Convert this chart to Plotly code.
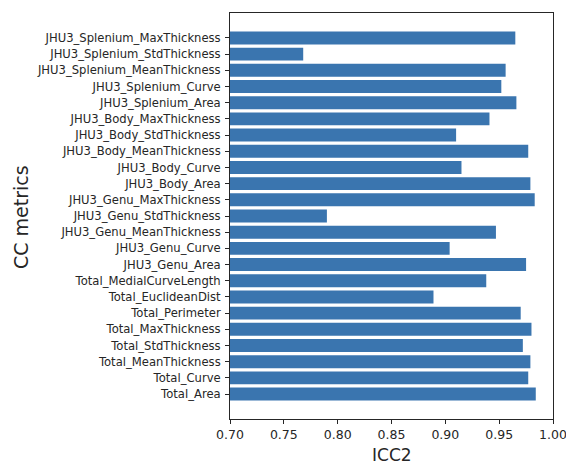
import plotly.graph_objects as go

categories = [
    "Total_Area", "Total_Curve", "Total_MeanThickness", "Total_StdThickness",
    "Total_MaxThickness", "Total_Perimeter", "Total_EuclideanDist",
    "Total_MedialCurveLength", "JHU3_Genu_Area", "JHU3_Genu_Curve",
    "JHU3_Genu_MeanThickness", "JHU3_Genu_StdThickness", "JHU3_Genu_MaxThickness",
    "JHU3_Body_Area", "JHU3_Body_Curve", "JHU3_Body_MeanThickness",
    "JHU3_Body_StdThickness", "JHU3_Body_MaxThickness", "JHU3_Splenium_Area",
    "JHU3_Splenium_Curve", "JHU3_Splenium_MeanThickness",
    "JHU3_Splenium_StdThickness", "JHU3_Splenium_MaxThickness",
]
icc2 = [
    0.984, 0.977, 0.979, 0.972, 0.980, 0.970, 0.889, 0.938,
    0.975, 0.904, 0.947, 0.790, 0.983,
    0.979, 0.915, 0.977, 0.910, 0.941,
    0.966, 0.952, 0.956, 0.768, 0.965,
]
x_ticks = [0.70, 0.75, 0.80, 0.85, 0.90, 0.95, 1.00]

fig = go.Figure(go.Bar(
    x=icc2, y=categories, orientation="h", width=0.8,
    marker=dict(color="#3a75af", line=dict(width=0)),
))

# page body has an 8px margin, so the figure is placed at (8, 8)
OFF = 8
W, H = 574 - OFF, 466 - OFF
L, R, T, B = 230 - OFF, 21, 13 - OFF, 47
PW, PH = W - L - R, H - T - B
n = len(categories)
fig.update_layout(
    width=W, height=H,
    margin=dict(l=L, r=R, t=T, b=B, autoexpand=False),
    paper_bgcolor="white", plot_bgcolor="white",
    font=dict(family="DejaVu Sans", color="#262626"),
    showlegend=False,
    annotations=[
        dict(text="ICC2", xref="paper", yref="paper", x=0.5,
             y=-((455 - OFF) - (H - B)) / PH,
             xanchor="center", yanchor="middle", showarrow=False,
             font=dict(size=17, color="#262626")),
        dict(text="CC metrics", xref="paper", yref="paper",
             x=-(L - (21 - OFF)) / PW, y=1 - ((217 - OFF) - T) / PH,
             xanchor="center", yanchor="middle", textangle=-90, showarrow=False,
             font=dict(size=19, color="#262626")),
    ],
)
fig.update_xaxes(
    range=[0.70, 1.00], tickvals=x_ticks, tickformat=".2f",
    showgrid=False, zeroline=False, automargin=False,
    showline=True, linecolor="#262626", linewidth=1, mirror=True,
    ticks="outside", ticklen=4, tickcolor="#262626",
    tickfont=dict(size=12.5),
)
fig.update_yaxes(
    type="category", range=[-1.54, n - 1 + 1.54],
    showgrid=False, zeroline=False, automargin=False,
    showline=True, linecolor="#262626", linewidth=1, mirror=True,
    ticks="outside", ticklen=4, tickcolor="#262626",
    tickfont=dict(size=11.6), ticklabelstandoff=2,
)

fig.write_html("out.html")
